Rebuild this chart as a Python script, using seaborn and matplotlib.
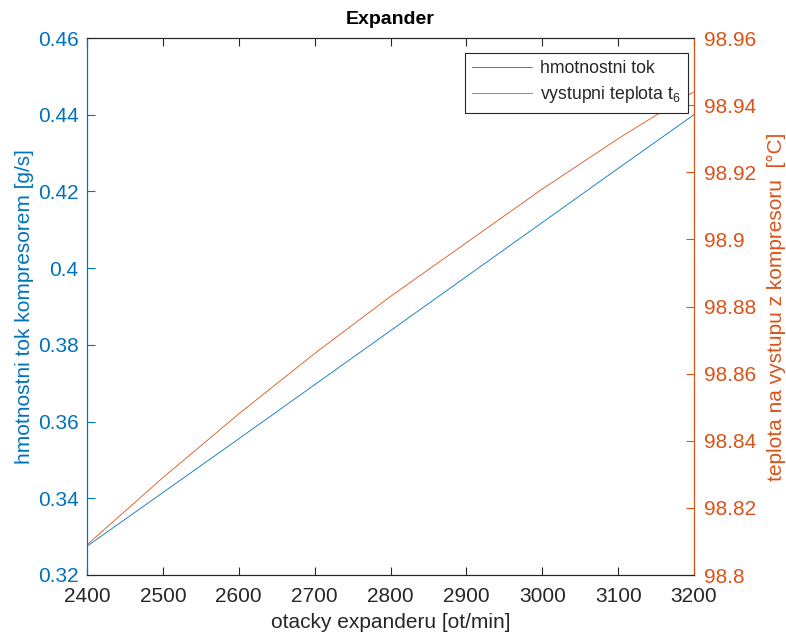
import matplotlib
matplotlib.use("Agg")
import matplotlib.pyplot as plt
from matplotlib.ticker import FuncFormatter, MultipleLocator
import seaborn as sns
import pandas as pd

# Expander speed sweep
otacky = [2400, 2500, 2600, 2700, 2800, 2900, 3000, 3100, 3200]
# mass flow through the compressor [g/s]
hmotnostni_tok = [0.3275, 0.3415, 0.3555, 0.3696, 0.3837, 0.3978, 0.4119, 0.4260, 0.4400]
# compressor outlet temperature t6 [°C]
teplota_t6 = [98.809, 98.829, 98.848, 98.866, 98.883, 98.899, 98.915, 98.930, 98.944]

df = pd.DataFrame({"otacky": otacky, "tok": hmotnostni_tok, "t6": teplota_t6})

sns.set_theme(style="white")
plt.rcParams["font.family"] = ["Liberation Sans", "DejaVu Sans"]
plt.rcParams["mathtext.fontset"] = "custom"
plt.rcParams["mathtext.rm"] = "Liberation Sans"
plt.rcParams["mathtext.it"] = "Liberation Sans"

BLUE = "#0072BD"
ORANGE = "#D95319"
DARK = "#262626"

fig = plt.figure(figsize=(7.86, 6.34), dpi=100)
ax = fig.add_axes([87 / 786, 1 - 575 / 634, (694 - 87) / 786, (575 - 38) / 634])
ax2 = ax.twinx()

sns.lineplot(data=df, x="otacky", y="tok", ax=ax, color=BLUE, linewidth=0.6, legend=False)
sns.lineplot(data=df, x="otacky", y="t6", ax=ax2, color=ORANGE, linewidth=0.6, legend=False)

ax.set_xlim(2400, 3200)
ax.set_ylim(0.32, 0.46)
ax2.set_ylim(98.8, 98.96)
ax.xaxis.set_major_locator(MultipleLocator(100))
ax.yaxis.set_major_locator(MultipleLocator(0.02))
ax2.yaxis.set_major_locator(MultipleLocator(0.02))

fmt = FuncFormatter(lambda v, p: f"{round(v, 4):g}")
ax.yaxis.set_major_formatter(fmt)
ax2.yaxis.set_major_formatter(fmt)

fs = 15
ax.set_xlabel("otacky expanderu [ot/min]", fontsize=fs, color=DARK, labelpad=5)
ax.set_ylabel("hmotnostni tok kompresorem [g/s]", fontsize=fs, color=BLUE, labelpad=3)
ax2.set_ylabel("teplota na vystupu z kompresoru  [°C]", fontsize=fs, color=ORANGE, labelpad=8)
ax.set_title("Expander", fontsize=14, fontweight="bold", color="black", pad=10)

for a in (ax, ax2):
    for s in a.spines.values():
        s.set_linewidth(0.8)
        s.set_color(DARK)
ax.spines["left"].set_color(BLUE)
ax2.spines["left"].set_color(BLUE)
ax.spines["right"].set_color(ORANGE)
ax2.spines["right"].set_color(ORANGE)

ax.tick_params(axis="x", direction="in", top=True, bottom=True, length=6, width=0.8,
               colors=DARK, labelsize=fs, pad=9)
ax.tick_params(axis="y", direction="in", left=True, right=False, length=6, width=0.8,
               colors=BLUE, labelsize=fs, pad=6)
ax2.tick_params(axis="y", direction="in", right=True, left=False, length=6, width=0.8,
                colors=ORANGE, labelsize=fs, pad=7)

handles = [ax.lines[0], ax2.lines[0]]
labels = ["hmotnostni tok", "vystupni teplota t$_6$"]
leg = ax2.legend(handles, labels, loc="upper right", bbox_to_anchor=(0.99, 0.972),
                 fontsize=12.7, frameon=True, fancybox=False, handlelength=3.4,
                 borderpad=0.4, labelspacing=0.42, handletextpad=0.45, borderaxespad=0)
leg.get_frame().set_edgecolor(DARK)
leg.get_frame().set_linewidth(0.8)
leg.get_frame().set_facecolor("white")
leg.get_frame().set_alpha(1)

fig.savefig("out.png", dpi=100, facecolor="white")
